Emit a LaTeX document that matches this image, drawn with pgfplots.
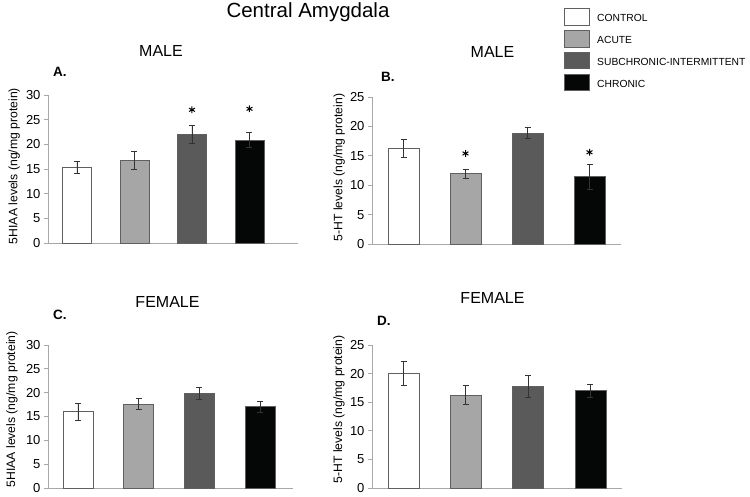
\documentclass[border=0pt]{standalone}
\usepackage{fontspec}
\setmainfont{Liberation Sans}
\usepackage{pgfplots}
\pgfplotsset{compat=1.18}
\definecolor{cCtrl}{HTML}{FFFFFF}
\definecolor{cAcute}{HTML}{A6A6A6}
\definecolor{cSub}{HTML}{5A5A5A}
\definecolor{cChr}{HTML}{050707}
\definecolor{cEdge}{HTML}{606060}
\definecolor{cAxis}{HTML}{A8A8A8}
\pgfplotsset{
  panel/.style={scale only axis, axis x line=bottom, axis y line=left,
    axis line style={-,draw=cAxis,line width=0.8pt},
    xtick=\empty, tick align=outside, major tick length=4pt,
    ytick style={draw=cAxis,line width=0.8pt},
    ymin=0, clip=false,
    tick label style={font=\fontsize{13}{15}\selectfont},
    /pgf/number format/assume math mode=true,
    ylabel style={font=\fontsize{12.2}{14}\selectfont}},
  bar/.style={ybar, bar shift=0pt, draw=cEdge, line width=0.6pt,
    error bars/y dir=both, error bars/y explicit,
    error bars/error bar style={black!80,line width=0.8pt},
    error bars/error mark options={rotate=90,mark size=3pt,black!80,line width=0.8pt}},
  star/.style={only marks, mark=asterisk, mark size=3.4pt, black, line width=1pt}
}
\begin{document}
\begin{tikzpicture}[x=1pt,y=1pt]
\path (0,0) rectangle (750,496);
% Panel A
\begin{axis}[panel, at={(48pt,253pt)}, anchor=south west, width=250pt, height=148pt,
  xmin=0.4957, xmax=4.8435, ymax=30, ytick={0,5,...,30}, bar width=29pt,
  ylabel={5HIAA levels (ng/mg protein)},
  ylabel style={at={(axis description cs:-0.135,0.52)},anchor=center}]
\addplot[bar, fill=cCtrl] coordinates {(1,15.35) +- (0,1.2)};
\addplot[bar, fill=cAcute] coordinates {(2,16.8) +- (0,1.85)};
\addplot[bar, fill=cSub] coordinates {(3,22.05) +- (0,1.8)};
\addplot[bar, fill=cChr] coordinates {(4,20.9) +- (0,1.6)};
\addplot[star] coordinates {(3,27.0) (4,27.2)};
\end{axis}
% Panel B
\begin{axis}[panel, at={(372pt,252pt)}, anchor=south west, width=249pt, height=147pt,
  xmin=0.492, xmax=4.508, ymax=25, ytick={0,5,...,25}, bar width=31pt,
  ylabel={5-HT levels (ng/mg protein)},
  ylabel style={at={(axis description cs:-0.132,0.52)},anchor=center}]
\addplot[bar, fill=cCtrl] coordinates {(1,16.3) +- (0,1.5)};
\addplot[bar, fill=cAcute] coordinates {(2,11.95) +- (0,0.75)};
\addplot[bar, fill=cSub] coordinates {(3,18.9) +- (0,1.0)};
\addplot[bar, fill=cChr] coordinates {(4,11.45) +- (0,2.1)};
\addplot[star] coordinates {(2,15.4) (4,15.6)};
\end{axis}
% Panel C
\begin{axis}[panel, at={(48pt,8pt)}, anchor=south west, width=245pt, height=143pt,
  xmin=0.506, xmax=4.542, ymax=30, ytick={0,5,...,30}, bar width=30pt,
  ylabel={5HIAA levels (ng/mg protein)},
  ylabel style={at={(axis description cs:-0.147,0.55)},anchor=center}]
\addplot[bar, fill=cCtrl] coordinates {(1,16.0) +- (0,1.75)};
\addplot[bar, fill=cAcute] coordinates {(2,17.6) +- (0,1.15)};
\addplot[bar, fill=cSub] coordinates {(3,19.85) +- (0,1.25)};
\addplot[bar, fill=cChr] coordinates {(4,17.05) +- (0,1.1)};
\end{axis}
% Panel D
\begin{axis}[panel, at={(372pt,8pt)}, anchor=south west, width=250pt, height=143pt,
  xmin=0.494, xmax=4.507, ymax=25, ytick={0,5,...,25}, bar width=31pt,
  ylabel={5-HT levels (ng/mg protein)},
  ylabel style={at={(axis description cs:-0.132,0.55)},anchor=center}]
\addplot[bar, fill=cCtrl] coordinates {(1,20.05) +- (0,2.1)};
\addplot[bar, fill=cAcute] coordinates {(2,16.25) +- (0,1.65)};
\addplot[bar, fill=cSub] coordinates {(3,17.8) +- (0,1.9)};
\addplot[bar, fill=cChr] coordinates {(4,17.0) +- (0,1.1)};
\end{axis}
% Titles
\node[anchor=base,inner sep=0] at (308,478) {\fontsize{20.5}{24}\selectfont Central Amygdala};
\node[anchor=base,inner sep=0] at (161,439) {\fontsize{16}{19}\selectfont MALE};
\node[anchor=base,inner sep=0] at (492.5,438) {\fontsize{16}{19}\selectfont MALE};
\node[anchor=base,inner sep=0] at (167.5,189) {\fontsize{16}{19}\selectfont FEMALE};
\node[anchor=base,inner sep=0] at (492.5,193) {\fontsize{16}{19}\selectfont FEMALE};
\node[anchor=base west,inner sep=0] at (53,419) {\fontsize{13.5}{16}\selectfont\bfseries A.};
\node[anchor=base west,inner sep=0] at (381,414) {\fontsize{13.5}{16}\selectfont\bfseries B.};
\node[anchor=base west,inner sep=0] at (53,176) {\fontsize{13.5}{16}\selectfont\bfseries C.};
\node[anchor=base west,inner sep=0] at (377,171) {\fontsize{13.5}{16}\selectfont\bfseries D.};
% Legend
\foreach \c/\t/\yy in {cCtrl/CONTROL/479, cAcute/ACUTE/457, cSub/SUBCHRONIC-INTERMITTENT/435.5, cChr/CHRONIC/413.5}{
  \filldraw[fill=\c,draw=cEdge,line width=0.7pt] (564,\yy-8.3) rectangle (589,\yy+8.3);
  \node[anchor=west,inner sep=0] at (597,\yy-1) {\fontsize{10.3}{12}\selectfont \t};
}
\end{tikzpicture}
\end{document}
